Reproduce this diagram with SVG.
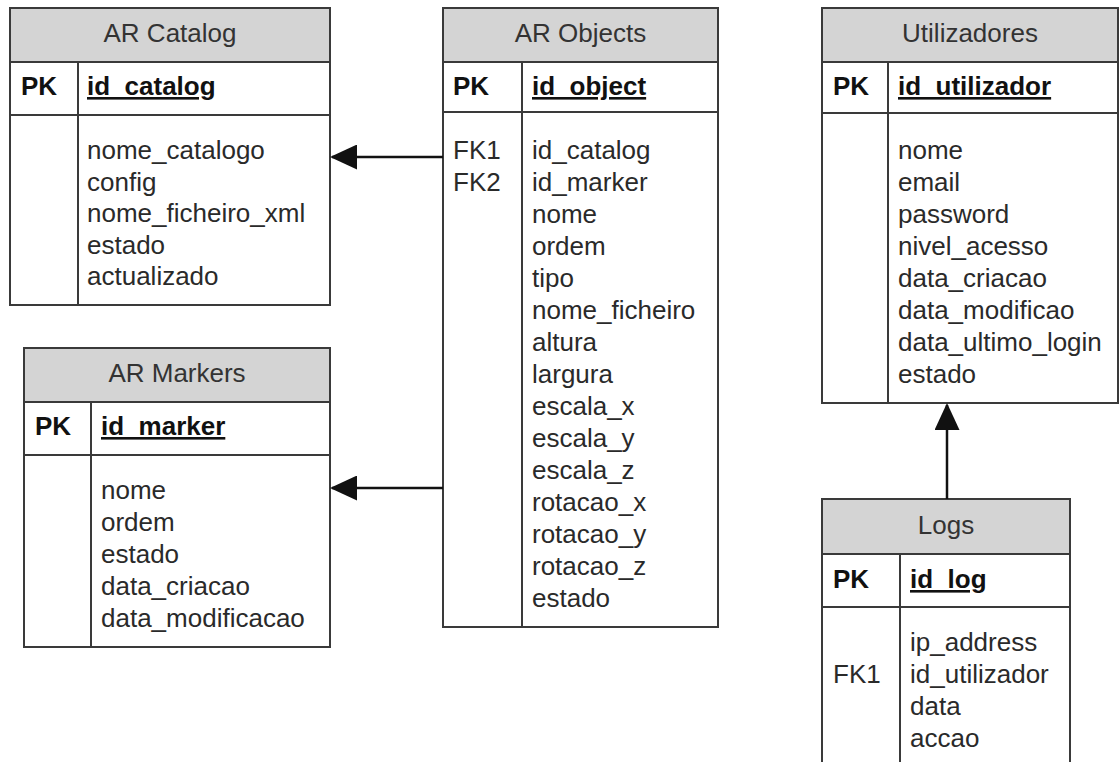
<svg xmlns="http://www.w3.org/2000/svg" width="1120" height="762" viewBox="0 0 1120 762">
  <defs>
    <marker id="arrow" viewBox="0 0 27 25" refX="25" refY="12.5" markerWidth="27" markerHeight="25" markerUnits="userSpaceOnUse" orient="auto">
      <path d="M0,0 L27,12.5 L0,25 Z" fill="#111"/>
    </marker>
    <style>
      .box { fill: #ffffff; stroke: #3a3a3a; stroke-width: 2; }
      .head { fill: #d4d4d4; stroke: #3a3a3a; stroke-width: 2; }
      .sep { stroke: #3a3a3a; stroke-width: 2; fill: none; }
      text { font-family: "Liberation Sans", Arial, sans-serif; font-size: 26px; fill: #2a2a2a; }
      .title { text-anchor: middle; fill: #333333; }
      .pk { font-weight: bold; fill: #111111; }
      .key { font-weight: bold; text-decoration: underline; fill: #111111; }
      .link { stroke: #111; stroke-width: 2.5; fill: none; marker-end: url(#arrow); }
    </style>
  </defs>

  <rect width="1120" height="762" fill="#ffffff"/>

  <!-- AR Catalog -->
  <g id="ar-catalog">
    <rect class="box" x="10" y="8" width="320" height="297"/>
    <rect class="head" x="10" y="8" width="320" height="54"/>
    <line class="sep" x1="10" y1="115" x2="330" y2="115"/>
    <line class="sep" x1="78" y1="62" x2="78" y2="305"/>
    <text class="title" x="170" y="42">AR Catalog</text>
    <text class="pk" x="21" y="95">PK</text>
    <text class="key" x="87" y="95">id_catalog</text>
    <text x="87" y="159">nome_catalogo</text>
    <text x="87" y="190.6">config</text>
    <text x="87" y="222.2">nome_ficheiro_xml</text>
    <text x="87" y="253.8">estado</text>
    <text x="87" y="285.4">actualizado</text>
  </g>

  <!-- AR Markers -->
  <g id="ar-markers">
    <rect class="box" x="24" y="348" width="306" height="299"/>
    <rect class="head" x="24" y="348" width="306" height="54"/>
    <line class="sep" x1="24" y1="455" x2="330" y2="455"/>
    <line class="sep" x1="91" y1="402" x2="91" y2="647"/>
    <text class="title" x="177" y="382">AR Markers</text>
    <text class="pk" x="35" y="435">PK</text>
    <text class="key" x="101" y="435">id_marker</text>
    <text x="101" y="499">nome</text>
    <text x="101" y="531">ordem</text>
    <text x="101" y="563">estado</text>
    <text x="101" y="595">data_criacao</text>
    <text x="101" y="627">data_modificacao</text>
  </g>

  <!-- AR Objects -->
  <g id="ar-objects">
    <rect class="box" x="443" y="8" width="275" height="619"/>
    <rect class="head" x="443" y="8" width="275" height="54"/>
    <line class="sep" x1="443" y1="112" x2="718" y2="112"/>
    <line class="sep" x1="522" y1="62" x2="522" y2="627"/>
    <text class="title" x="580.5" y="42">AR Objects</text>
    <text class="pk" x="453" y="95">PK</text>
    <text class="key" x="532" y="95">id_object</text>
    <text x="453" y="159">FK1</text>
    <text x="453" y="191">FK2</text>
    <text x="532" y="159">id_catalog</text>
    <text x="532" y="191">id_marker</text>
    <text x="532" y="223">nome</text>
    <text x="532" y="255">ordem</text>
    <text x="532" y="287">tipo</text>
    <text x="532" y="319">nome_ficheiro</text>
    <text x="532" y="351">altura</text>
    <text x="532" y="383">largura</text>
    <text x="532" y="415">escala_x</text>
    <text x="532" y="447">escala_y</text>
    <text x="532" y="479">escala_z</text>
    <text x="532" y="511">rotacao_x</text>
    <text x="532" y="543">rotacao_y</text>
    <text x="532" y="575">rotacao_z</text>
    <text x="532" y="607">estado</text>
  </g>

  <!-- Utilizadores -->
  <g id="utilizadores">
    <rect class="box" x="822" y="8" width="296" height="395"/>
    <rect class="head" x="822" y="8" width="296" height="54"/>
    <line class="sep" x1="822" y1="113" x2="1118" y2="113"/>
    <line class="sep" x1="888" y1="62" x2="888" y2="403"/>
    <text class="title" x="970" y="42">Utilizadores</text>
    <text class="pk" x="833" y="95">PK</text>
    <text class="key" x="898" y="95">id_utilizador</text>
    <text x="898" y="159">nome</text>
    <text x="898" y="191">email</text>
    <text x="898" y="223">password</text>
    <text x="898" y="255">nivel_acesso</text>
    <text x="898" y="287">data_criacao</text>
    <text x="898" y="319">data_modificao</text>
    <text x="898" y="351">data_ultimo_login</text>
    <text x="898" y="383">estado</text>
  </g>

  <!-- Logs -->
  <g id="logs">
    <rect class="box" x="822" y="499" width="248" height="290"/>
    <rect class="head" x="822" y="499" width="248" height="55"/>
    <line class="sep" x1="822" y1="607" x2="1070" y2="607"/>
    <line class="sep" x1="900" y1="554" x2="900" y2="780"/>
    <text class="title" x="946" y="534">Logs</text>
    <text class="pk" x="833" y="588">PK</text>
    <text class="key" x="910" y="588">id_log</text>
    <text x="833" y="683">FK1</text>
    <text x="910" y="651">ip_address</text>
    <text x="910" y="683">id_utilizador</text>
    <text x="910" y="715">data</text>
    <text x="910" y="747">accao</text>
  </g>

  <!-- Connectors -->
  <g id="connectors">
    <line class="link" x1="443" y1="157" x2="332" y2="157"/>
    <line class="link" x1="443" y1="488" x2="332" y2="488"/>
    <line class="link" x1="947" y1="499" x2="947" y2="405"/>
  </g>
</svg>
